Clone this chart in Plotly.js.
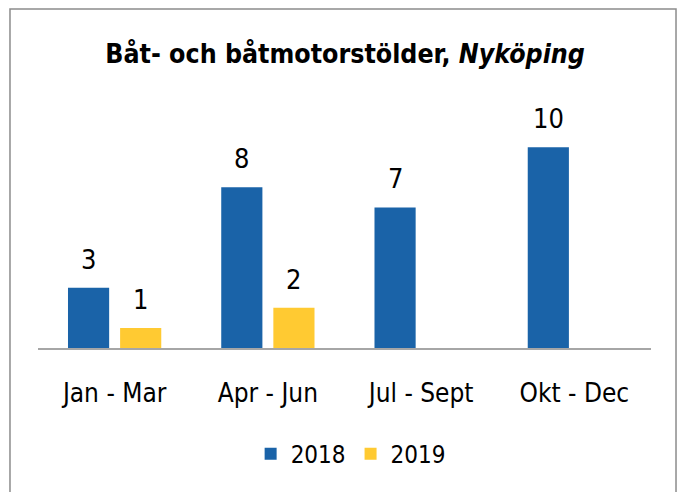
<!DOCTYPE html>
<html>
<head>
<meta charset="utf-8">
<script src="https://cdn.plot.ly/plotly-3.0.1.min.js"></script>
<style>html,body{margin:0;padding:0;background:#fff;}#chart{width:682px;height:492px;}</style>
</head>
<body>
<div id="chart"></div>
<script>
const categories = ["Jan - Mar", "Apr - Jun", "Jul - Sept", "Okt - Dec"];
const series2018 = [3, 8, 7, 10];
const series2019 = [1, 2, null, null];
const seriesNames = ["2018", "2019"];
const colors = ["#1A63A8", "#FFCA32"];

const FONT = "'DejaVu Sans Condensed', 'Liberation Sans', sans-serif";

const traces = [
  {type: "bar", name: seriesNames[0], x: categories, y: series2018, marker: {color: colors[0]}, hoverinfo: "none"},
  {type: "bar", name: seriesNames[1], x: categories, y: series2019, marker: {color: colors[1]}, hoverinfo: "none"}
];

const annotations = [];
[series2018, series2019].forEach((s, si) => {
  s.forEach((v, i) => {
    if (v === null) return;
    annotations.push({
      x: categories[i], y: v, xref: "x", yref: "y",
      text: String(v), showarrow: false,
      xshift: si === 0 ? -26 : 26, yshift: 11, yanchor: "bottom",
      font: {family: FONT, size: 27, color: "#000"}
    });
  });
});

const layout = {
  width: 682, height: 492,
  margin: {l: 38, r: 31, t: 107, b: 144},
  paper_bgcolor: "#fff", plot_bgcolor: "#fff",
  title: {
    text: "<b>Båt- och båtmotorstölder, <i>Nyköping</i></b>",
    font: {family: FONT, size: 26.5, color: "#000"},
    x: 0.506, xanchor: "center", y: 0.89, yanchor: "middle"
  },
  barmode: "group", bargap: 0.32, bargroupgap: 0.21,
  xaxis: {
    type: "category", showgrid: false, showline: true, linecolor: "#A6A6A6", linewidth: 2,
    ticks: "", tickfont: {family: FONT, size: 26, color: "#000"}, ticklabelstandoff: 21
  },
  yaxis: {range: [0, 12], visible: false, showgrid: false, zeroline: false},
  showlegend: true,
  legend: {
    orientation: "h", x: 0.51, xanchor: "center", y: -0.44, yanchor: "middle",
    font: {family: FONT, size: 24, color: "#000"}, itemwidth: 30, traceorder: "normal"
  },
  annotations: annotations,
  shapes: [{
    type: "rect", xref: "paper", yref: "paper",
    x0: -0.0457, x1: 1.0408, y0: -0.7, y1: 1.4066,
    line: {color: "#8C8C8C", width: 1.5}, fillcolor: "rgba(0,0,0,0)", layer: "above"
  }]
};

Plotly.newPlot("chart", traces, layout, {staticPlot: true, displayModeBar: false});
</script>
</body>
</html>
